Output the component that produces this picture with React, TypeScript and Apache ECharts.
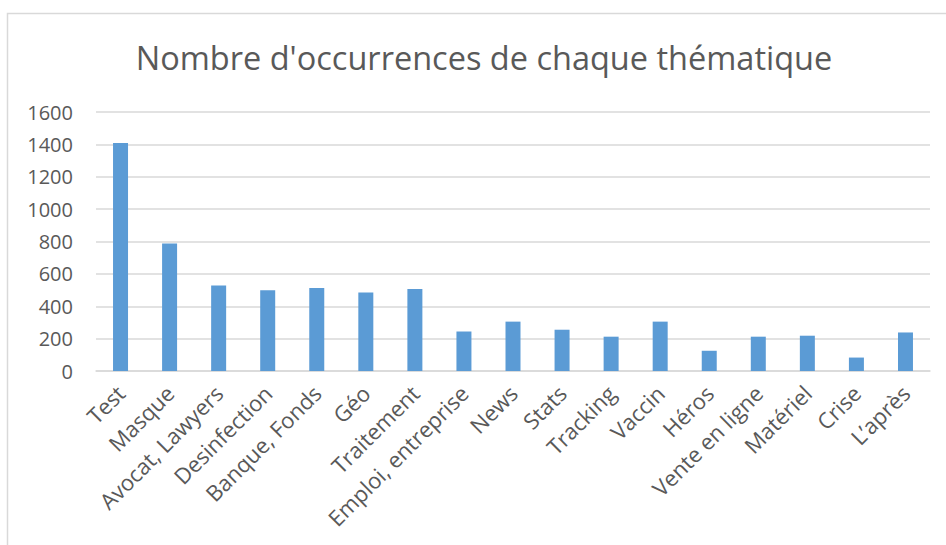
import React, { useEffect, useRef } from "react";
import * as echarts from "echarts";

const categories = [
  "Test",
  "Masque",
  "Avocat, Lawyers",
  "Desinfection",
  "Banque, Fonds",
  "Géo",
  "Traitement",
  "Emploi, entreprise",
  "News",
  "Stats",
  "Tracking",
  "Vaccin",
  "Héros",
  "Vente en ligne",
  "Matériel",
  "Crise",
  "L’après",
];

const occurrences = [1408, 787, 528, 499, 513, 485, 507, 244, 305, 255, 212, 305, 125, 212, 218, 83, 238];

const yTicks = { min: 0, max: 1600, interval: 200 };

const titleText = "Nombre d'occurrences de chaque thématique";

export default function App() {
  const ref = useRef<HTMLDivElement>(null);

  useEffect(() => {
    if (!ref.current) return;
    const chart = echarts.init(ref.current, null, { renderer: "svg" });
    const font = "'Open Sans', 'Noto Sans', sans-serif";
    chart.setOption({
      animation: false,
      backgroundColor: "#ffffff",
      title: {
        text: titleText,
        left: 479,
        top: 36,
        textAlign: "center",
        textStyle: {
          fontFamily: font,
          fontSize: 32.5,
          fontWeight: "normal",
          color: "#595959",
        },
      },
      graphic: [
        {
          type: "rect",
          shape: { x: 7.5, y: 13.5, width: 960, height: 560 },
          style: { fill: "none", stroke: "#d9d9d9", lineWidth: 1.5 },
          silent: true,
          z: -1,
        },
      ],
      grid: { left: 96, right: 16, top: 112, bottom: 174, containLabel: false },
      xAxis: {
        type: "category",
        data: categories,
        boundaryGap: true,
        axisLine: { show: true, lineStyle: { color: "#d9d9d9", width: 1.5 } },
        axisTick: { show: false },
        axisLabel: {
          interval: 0,
          rotate: 45,
          margin: 18,
          fontFamily: font,
          fontSize: 22,
          color: "#595959",
        },
      },
      yAxis: {
        type: "value",
        min: yTicks.min,
        max: yTicks.max,
        interval: yTicks.interval,
        axisLine: { show: false },
        axisTick: { show: false },
        splitLine: { show: true, lineStyle: { color: "#d9d9d9", width: 1.5 } },
        axisLabel: {
          margin: 23,
          fontFamily: font,
          fontSize: 20,
          color: "#595959",
          formatter: (v: number) => String(v),
        },
      },
      series: [
        {
          type: "bar",
          data: occurrences,
          barWidth: 15,
          itemStyle: { color: "#5b9bd5" },
        },
      ],
    });
    return () => chart.dispose();
  }, []);

  return (
    <div
      ref={ref}
      style={{ position: "fixed", left: 0, top: 0, width: 946, height: 545 }}
    />
  );
}
